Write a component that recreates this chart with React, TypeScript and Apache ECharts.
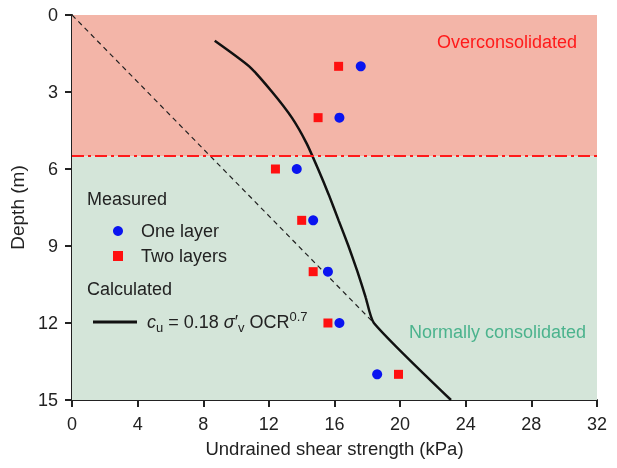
import React, { useEffect, useRef } from "react";
import * as echarts from "echarts";

// Measured undrained shear strength (kPa) against depth (m)
const oneLayerDepth = [2, 4, 6, 8, 10, 12, 14];
const oneLayerCu = [17.6, 16.3, 13.7, 14.7, 15.6, 16.3, 18.6];
const twoLayerDepth = [2, 4, 6, 8, 10, 12, 14];
const twoLayerCu = [16.25, 15.0, 12.4, 14.0, 14.7, 15.6, 19.9];

// Calculated profile cu = 0.18 σv' OCR^0.7
const calcDepth = [1, 2, 3, 4, 5, 6, 7, 8, 9, 10, 11, 12, 15];
const calcCu = [8.7, 10.8, 12.2, 13.4, 14.3, 15.0, 15.65, 16.25, 16.85, 17.4, 17.9, 18.4, 23.1];

// Normally consolidated reference line (OCR = 1)
const ncDepth = [0, 12];
const ncCu = [0, 18.4];

// Boundary between the overconsolidated crust and the normally consolidated clay
const boundaryDepth = 5.5;

const xTicks = { min: 0, max: 32, interval: 4 };
const yTicks = { min: 0, max: 15, interval: 3 };

const FONT = "Liberation Sans, Arial, sans-serif";
const INK = "#222";

export default function App() {
  const ref = useRef<HTMLDivElement>(null);

  useEffect(() => {
    if (!ref.current) return;
    const chart = echarts.init(ref.current, undefined, { renderer: "svg" });
    const pairs = (xs: number[], ys: number[]) => xs.map((x, i) => [x, ys[i]]);

    chart.setOption({
      animation: false,
      textStyle: { fontFamily: FONT },
      grid: { left: 72, right: 20, top: 15, bottom: 68 },
      xAxis: {
        type: "value",
        min: xTicks.min,
        max: xTicks.max,
        interval: xTicks.interval,
        name: "Undrained shear strength (kPa)",
        nameLocation: "middle",
        nameGap: 39,
        nameTextStyle: { fontSize: 18.5, color: INK, fontFamily: FONT },
        axisLine: { onZero: false, lineStyle: { color: INK, width: 2 } },
        axisTick: { show: true, inside: false, length: 7, lineStyle: { color: INK, width: 2 } },
        axisLabel: { fontSize: 18, color: INK, margin: 15, fontFamily: FONT },
        splitLine: { show: false },
      },
      yAxis: {
        type: "value",
        inverse: true,
        min: yTicks.min,
        max: yTicks.max,
        interval: yTicks.interval,
        name: "Depth (m)",
        nameLocation: "middle",
        nameGap: 41,
        nameTextStyle: { fontSize: 19, color: INK, fontFamily: FONT },
        axisLine: { onZero: false, lineStyle: { color: INK, width: 2 } },
        axisTick: { show: true, inside: false, length: 7, lineStyle: { color: INK, width: 2 } },
        axisLabel: { fontSize: 18, color: INK, margin: 14, fontFamily: FONT },
        splitLine: { show: false },
      },
      legend: [
        {
          data: ["One layer", "Two layers"],
          orient: "vertical",
          left: 108,
          top: 217,
          itemWidth: 10,
          itemHeight: 10,
          itemGap: 7,
          textStyle: { fontSize: 18, color: INK, fontFamily: FONT, padding: [0, 0, 0, 13] },
          selectedMode: false,
        },
        {
          data: [{ name: "Calculated", icon: "rect" }],
          left: 88,
          top: 305,
          itemWidth: 44,
          itemHeight: 3,
          selectedMode: false,
          formatter: () => "{i|c}{sub|u}{n| = 0.18 }{i|σ}{n|′}{sub|v}{n| OCR}{sup|0.7}",
          textStyle: {
            color: INK,
            fontFamily: FONT,
            padding: [0, 0, 0, 5],
            rich: {
              i: { fontSize: 18, fontStyle: "italic", color: INK, lineHeight: 24, fontFamily: FONT },
              n: { fontSize: 18, color: INK, lineHeight: 24, fontFamily: FONT },
              sub: { fontSize: 13, color: INK, lineHeight: 12, verticalAlign: "bottom", fontFamily: FONT },
              sup: { fontSize: 13, color: INK, lineHeight: 12, verticalAlign: "top", fontFamily: FONT },
            },
          },
        },
      ],
      graphic: [
        {
          type: "text",
          left: 87,
          top: 190,
          z: 100,
          style: { text: "Measured", fontSize: 18, fill: INK, fontFamily: FONT },
        },
        {
          type: "text",
          left: 87,
          top: 280,
          z: 100,
          style: { text: "Calculated", fontSize: 18, fill: INK, fontFamily: FONT },
        },
      ],
      series: [
        {
          name: "zones",
          type: "line",
          data: [],
          silent: true,
          markArea: {
            silent: true,
            data: [
              [
                { xAxis: xTicks.min, yAxis: 0, itemStyle: { color: "#f3b5a8" } },
                { xAxis: xTicks.max, yAxis: boundaryDepth },
              ],
              [
                { xAxis: xTicks.min, yAxis: boundaryDepth, itemStyle: { color: "#d4e5d9" } },
                { xAxis: xTicks.max, yAxis: 15 },
              ],
            ],
          },
          markLine: {
            silent: true,
            symbol: "none",
            label: { show: false },
            lineStyle: { color: "#ff1a1a", width: 2, type: [12, 4, 3, 4] },
            data: [{ yAxis: boundaryDepth }],
          },
        },
        {
          name: "NC line",
          type: "line",
          data: pairs(ncCu, ncDepth),
          symbol: "none",
          lineStyle: { color: INK, width: 1.2, type: [5, 4] },
          z: 3,
        },
        {
          name: "Calculated",
          type: "line",
          data: pairs(calcCu, calcDepth),
          symbol: "none",
          smooth: 0.2,
          lineStyle: { color: "#111", width: 2.5 },
          itemStyle: { color: "#111" },
          z: 4,
        },
        {
          name: "One layer",
          type: "scatter",
          data: pairs(oneLayerCu, oneLayerDepth),
          symbol: "circle",
          symbolSize: 10,
          itemStyle: { color: "#0a14f0", opacity: 1 },
          z: 5,
        },
        {
          name: "Two layers",
          type: "scatter",
          data: pairs(twoLayerCu, twoLayerDepth),
          symbol: "rect",
          symbolSize: 9,
          itemStyle: { color: "#ff1010", opacity: 1 },
          z: 5,
        },
        {
          name: "labels",
          type: "scatter",
          data: [],
          silent: true,
          markPoint: {
            silent: true,
            symbolSize: 0,
            data: [
              {
                coord: [xTicks.max, 1.05],
                label: {
                  show: true,
                  formatter: "Overconsolidated",
                  position: "left",
                  distance: 20,
                  fontSize: 18,
                  color: "#ff1a1a",
                  fontFamily: FONT,
                },
              },
              {
                coord: [xTicks.max, 12.35],
                label: {
                  show: true,
                  formatter: "Normally consolidated",
                  position: "left",
                  distance: 11,
                  fontSize: 18,
                  color: "#4bb38d",
                  fontFamily: FONT,
                },
              },
            ],
          },
        },
      ],
    });

    return () => chart.dispose();
  }, []);

  return (
    <div
      ref={ref}
      style={{ position: "fixed", left: 0, top: 0, width: 617, height: 468 }}
    />
  );
}
